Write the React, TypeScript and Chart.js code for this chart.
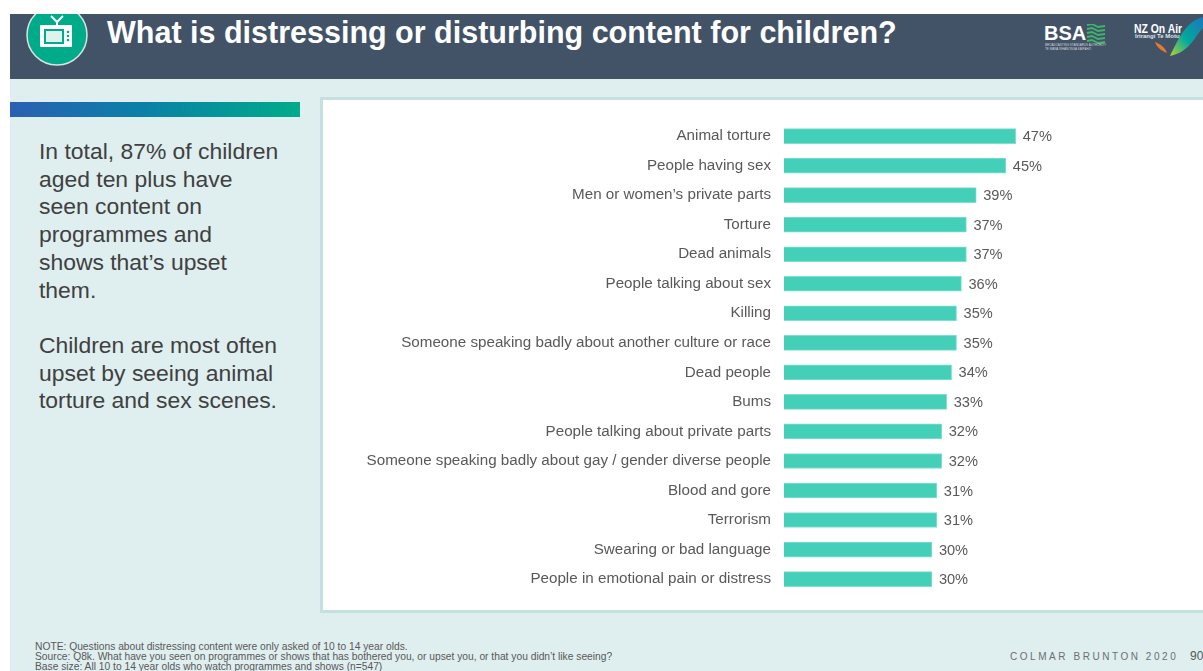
import React, { useEffect, useRef } from "react";
import { Chart, registerables } from "chart.js";

Chart.register(...registerables);

const categories = [
  "Animal torture",
  "People having sex",
  "Men or women’s private parts",
  "Torture",
  "Dead animals",
  "People talking about sex",
  "Killing",
  "Someone speaking badly about another culture or race",
  "Dead people",
  "Bums",
  "People talking about private parts",
  "Someone speaking badly about gay / gender diverse people",
  "Blood and gore",
  "Terrorism",
  "Swearing or bad language",
  "People in emotional pain or distress",
];
const percentages = [47, 45, 39, 37, 37, 36, 35, 35, 34, 33, 32, 32, 31, 31, 30, 30];

const summaryLines = [
  "In total, 87% of children",
  "aged ten plus have",
  "seen content on",
  "programmes and",
  "shows that’s upset",
  "them.",
];
const summaryLines2 = ["Children are most often", "upset by seeing animal", "torture and sex scenes."];
const footnotes = [
  "NOTE: Questions about distressing content were only asked of 10 to 14 year olds.",
  "Source: Q8k. What have you seen on programmes or shows that has bothered you, or upset you, or that you didn’t like seeing?",
  "Base size: All 10 to 14 year olds who watch programmes and shows (n=547)",
];

const FONT = '"Liberation Sans", Arial, sans-serif';
const TEXT_GREY = "#595959";

// Writes each bar's percentage just past its end.
const valueLabels = {
  id: "valueLabels",
  afterDatasetsDraw(chart: any) {
    const { ctx } = chart;
    const bars = chart.getDatasetMeta(0).data;
    ctx.save();
    ctx.font = `14.6px ${FONT}`;
    ctx.fillStyle = TEXT_GREY;
    ctx.textAlign = "left";
    ctx.textBaseline = "middle";
    bars.forEach((bar: any, i: number) => {
      ctx.fillText(`${percentages[i]}%`, bar.x + 7, bar.y + 1);
    });
    ctx.restore();
  },
};

function TvBadge() {
  return (
    <svg width="64" height="66" viewBox="0 0 64 66" style={{ position: "absolute", left: 25, top: 3 }}>
      <circle cx="32" cy="32" r="30" fill="#00ab8a" stroke="#d5e6e2" strokeWidth="1.5" />
      <path d="M26 13 L32 19 L38 13 M32 19 L32 22" fill="none" stroke="#fff" strokeWidth="2" />
      <rect x="15" y="22" width="32" height="22" fill="#fff" rx="1" />
      <rect x="19" y="26" width="20" height="15" fill="#00ab8a" />
      <rect x="21" y="28" width="16" height="11" fill="#dff3ee" />
      <circle cx="43" cy="29" r="1.3" fill="#00ab8a" />
      <circle cx="43" cy="33" r="1.3" fill="#00ab8a" />
      <circle cx="43" cy="37" r="1.3" fill="#00ab8a" />
    </svg>
  );
}

function Logos() {
  return (
    <>
      <div style={{ position: "absolute", left: 1044, top: 22, color: "#fff", font: `bold 20px ${FONT}`, lineHeight: "22px" }}>BSA</div>
      <svg width="20" height="20" viewBox="0 0 20 20" style={{ position: "absolute", left: 1086, top: 24 }}>
        {[3, 7, 11, 15, 19].map((y) => (
          <path key={y} d={`M1 ${y - 2} L6 ${y - 3} L12 ${y} L19 ${y - 1}`} fill="none" stroke="#3fb56a" strokeWidth="1.8" />
        ))}
      </svg>
      <div style={{ position: "absolute", left: 1045, top: 43, color: "#cfd6dc", font: `3px ${FONT}`, lineHeight: "4px", whiteSpace: "nowrap" }}>
        BROADCASTING STANDARDS AUTHORITY
        <br />
        TE MANA WHANONGA KAIPĀHO
      </div>
      <div style={{ position: "absolute", left: 1134, top: 21, color: "#fff", font: `bold 13px ${FONT}`, lineHeight: "15px", whiteSpace: "nowrap", transform: "scaleX(0.8)", transformOrigin: "left top" }}>NZ On Air</div>
      <div style={{ position: "absolute", left: 1135, top: 33, color: "#dfe5ea", font: `bold 6px ${FONT}`, lineHeight: "7px", whiteSpace: "nowrap" }}>Irirangi Te Motu</div>
      <svg width="60" height="48" viewBox="0 0 60 48" style={{ position: "absolute", left: 1148, top: 14 }}>
        <defs>
          <linearGradient id="swoosh" x1="0" y1="1" x2="1" y2="0">
            <stop offset="0" stopColor="#b5d334" />
            <stop offset="0.45" stopColor="#00a99d" />
            <stop offset="1" stopColor="#1c75bc" />
          </linearGradient>
        </defs>
        <path d="M22 42 C30 26 38 6 56 3 L56 14 C48 18 44 38 22 42 Z" fill="url(#swoosh)" />
        <path d="M7 28 C12 30 17 33 19 39 C14 37 9 34 7 28 Z" fill="#e8792b" />
      </svg>
    </>
  );
}

export default function App() {
  const canvasRef = useRef<HTMLCanvasElement>(null);

  useEffect(() => {
    const chart = new Chart(canvasRef.current!, {
      type: "bar",
      data: {
        labels: categories,
        datasets: [
          {
            data: percentages,
            backgroundColor: "#44cfb8",
            borderColor: "#7fe0cf",
            borderWidth: 1,
            barThickness: 15,
          },
        ],
      },
      options: {
        indexAxis: "y",
        animation: false,
        responsive: false,
        layout: { padding: { top: 21.3, bottom: 11.5, left: 0, right: 0 } },
        plugins: { legend: { display: false }, tooltip: { enabled: false } },
        scales: {
          x: { display: false, min: 0, max: 85 },
          y: {
            afterFit(axis: any) {
              axis.width = 460;
            },
            grid: { display: false },
            border: { display: false },
            ticks: {
              autoSkip: false,
              padding: 5,
              color: TEXT_GREY,
              font: { family: FONT, size: 15.2 },
            },
          },
        },
      },
      plugins: [valueLabels],
    } as any);
    return () => chart.destroy();
  }, []);

  return (
    <div style={{ position: "absolute", left: 0, top: 0, width: 1203, height: 671, overflow: "hidden", background: "#fff", fontFamily: FONT }}>
      {/* slide background */}
      <div style={{ position: "absolute", left: 10, top: 14, width: 1193, height: 657, background: "#dfeeee" }} />

      {/* header band, clipped so the badge runs off its top edge */}
      <div style={{ position: "absolute", left: 10, top: 14, width: 1193, height: 65, background: "#425368", overflow: "hidden" }}>
        <div style={{ position: "absolute", left: -10, top: -14, width: 1203, height: 79 }}>
          <TvBadge />
          <div style={{ position: "absolute", left: 107, top: 14, color: "#fff", font: `bold 30.5px ${FONT}`, lineHeight: "36px", whiteSpace: "nowrap" }}>
            What is distressing or disturbing content for children?
          </div>
          <Logos />
        </div>
      </div>

      {/* accent strip */}
      <div style={{ position: "absolute", left: 10, top: 102, width: 290, height: 15, background: "linear-gradient(90deg, #2b5fb4 0%, #0a80a8 45%, #00ab8a 100%)" }} />

      {/* summary text */}
      <div style={{ position: "absolute", left: 39, top: 138, color: "#404040", font: `22.9px ${FONT}`, lineHeight: "27.7px", whiteSpace: "nowrap" }}>
        {summaryLines.map((l) => (
          <div key={l}>{l}</div>
        ))}
        <div style={{ height: 27.7 }} />
        {summaryLines2.map((l) => (
          <div key={l}>{l}</div>
        ))}
      </div>

      {/* chart panel */}
      <div style={{ position: "absolute", left: 320, top: 97, width: 890, height: 516, boxSizing: "border-box", background: "#fff", border: "3.5px solid #c5e0e1" }} />
      <canvas ref={canvasRef} width={879} height={508} style={{ position: "absolute", left: 324, top: 100, width: 879, height: 508 }} />

      {/* footer */}
      <div style={{ position: "absolute", left: 35, top: 642, color: "#595959", font: `10.25px ${FONT}`, lineHeight: "10px", whiteSpace: "nowrap" }}>
        {footnotes.map((l) => (
          <div key={l}>{l}</div>
        ))}
      </div>
      <div style={{ position: "absolute", left: 1010, top: 651, color: "#6b6f73", font: `10px ${FONT}`, lineHeight: "11px", letterSpacing: "2.55px", whiteSpace: "nowrap" }}>
        COLMAR BRUNTON 2020
      </div>
      <div style={{ position: "absolute", left: 1190, top: 649, color: "#595959", font: `12px ${FONT}`, lineHeight: "14px", whiteSpace: "nowrap" }}>90</div>
    </div>
  );
}
